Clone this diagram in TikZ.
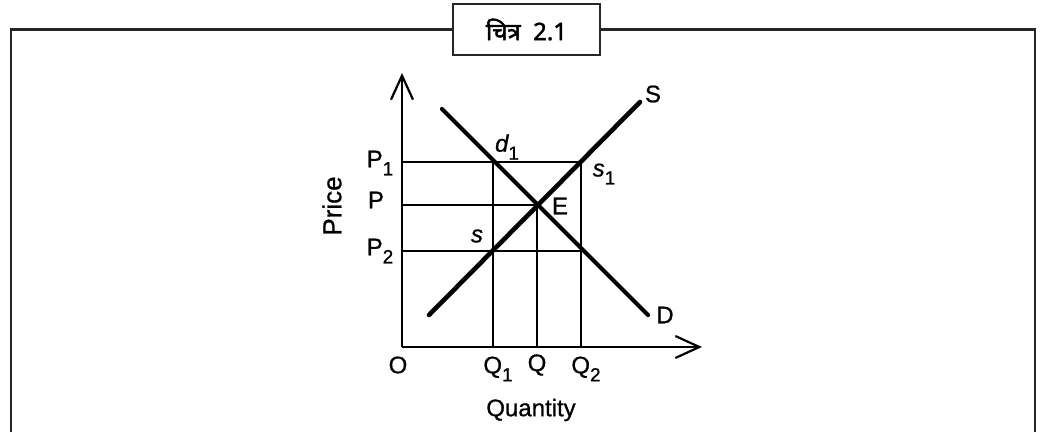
\documentclass[tikz,border=0pt]{standalone}
\usepackage{fontspec}
\setmainfont{Liberation Sans}[FakeBold=0.8]
\newfontfamily\devfont[Script=Devanagari,FakeBold=2]{Noto Sans}
\usetikzlibrary{arrows.meta}
\newcommand{\lowsub}[1]{\raisebox{-8pt}{\upshape\fontsize{19}{19}\selectfont #1}}
\begin{document}
\begin{tikzpicture}[x=1pt,y=-1pt,
  frame/.style={line width=2.2pt, draw=black!85},
  axis/.style={line width=2.4pt, -{Straight Barb[length=24pt,width=22pt,line width=2.2pt]}},
  guide/.style={line width=1.8pt},
  curve/.style={line width=4.6pt, line cap=round},
  lbl/.style={font=\fontsize{24}{26}\selectfont, inner sep=0pt},
]
\useasboundingbox (0,0) rectangle (1044,432);
% frame and title
\node[frame, draw, minimum width=147pt, minimum height=51pt, inner sep=0pt] (title) at (526.5,29.5)
  {\devfont\fontsize{24}{26}\selectfont चित्र\ \ 2.1};
\coordinate (fl) at (11,432);
\coordinate (fr) at (1035,432);
\draw[frame] (fl) |- (title.west);
\draw[frame] (fr) |- (title.east);
% axes
\coordinate (O) at (402,347);
\coordinate (ytop) at (402,73);
\coordinate (xend) at (702,347);
\draw[axis] (O) -- (ytop);
\draw[axis] (O) -- (xend);
% guide points
\coordinate (p1) at (402,162);
\coordinate (p) at (402,205);
\coordinate (p2) at (402,251);
\coordinate (q1) at (493,347);
\coordinate (q) at (537,347);
\coordinate (q2) at (581,347);
\coordinate (d1) at (493,162);
\coordinate (s1) at (581,162);
\coordinate (E) at (537,205);
\coordinate (s) at (493,251);
\coordinate (d2) at (581,251);
\draw[guide] (p1) -- (s1);
\draw[guide] (p) -- (E);
\draw[guide] (p2) -- (d2);
\draw[guide] (q1) -- (d1);
\draw[guide] (q) -- (E);
\draw[guide] (q2) -- (s1);
% curves
\coordinate (Sa) at (429,315);
\coordinate (Sb) at (640,102);
\coordinate (Da) at (442,109);
\coordinate (Db) at (648,315);
\draw[curve] (Sa) -- (Sb);
\draw[curve, line width=4.2pt] (Da) -- (Db);
% labels
\node[lbl] (lS) at (653,94) {S};
\node[lbl] (lD) at (665,315) {D};
\node[lbl] (ld1) at (507,147) {\itshape d\lowsub{1}};
\node[lbl] (ls1) at (604,174) {\itshape s\lowsub{1}};
\node[lbl] (lE) at (560,206) {E};
\node[lbl] (ls) at (477,236) {\itshape s};
\node[lbl] (lP1) at (380,163) {P\lowsub{1}};
\node[lbl] (lP) at (376,200) {P};
\node[lbl] (lP2) at (380,251) {P\lowsub{2}};
\node[lbl, rotate=90, font=\fontsize{26}{28}\selectfont] (lPrice) at (332,206) {Price};
\node[lbl] (lO) at (398,365) {O};
\node[lbl] (lQ1) at (498,369) {Q\lowsub{1}};
\node[lbl] (lQ) at (537,365) {Q};
\node[lbl] (lQ2) at (586,369) {Q\lowsub{2}};
\node[lbl] (lQty) at (531,410) {Quantity};
\end{tikzpicture}
\end{document}
